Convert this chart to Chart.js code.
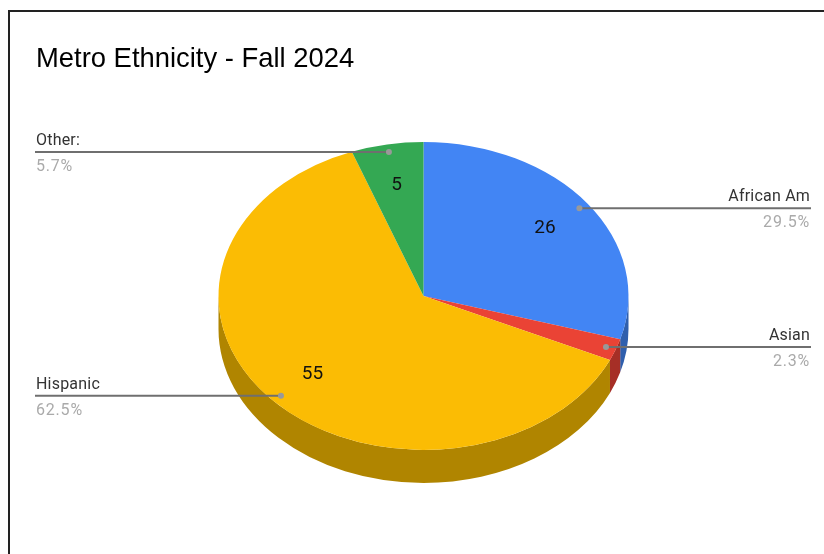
<!DOCTYPE html>
<html>
<head>
<meta charset="utf-8">
<title>Metro Ethnicity - Fall 2024</title>
<script src="https://cdn.jsdelivr.net/npm/chart.js@4"></script>
<style>
    html, body { margin: 0; padding: 0; background: #fff; overflow: hidden; }
    #frame { position: absolute; left: 8px; top: 10px; width: 900px; height: 700px; border: 2px solid #222; }
    /* the reference is a slightly soft screenshot */
    #pieChart { position: absolute; left: 0; top: 0; filter: blur(0.45px); }
</style>
</head>
<body>
<div id="frame"></div>
<canvas id="pieChart" width="824" height="554"></canvas>
<script>
// values
const categories = ['African Am', 'Asian', 'Hispanic', 'Other:'];
const counts = [26, 2, 55, 5];
const percentLabels = ['29.5%', '2.3%', '62.5%', '5.7%'];
const sliceColors = ['#4285f4', '#ea4335', '#fbbc04', '#34a853'];
const sideColors = ['#2f5fad', '#a62f26', '#b08500', '#257740'];

// tilt of the pie
const squash = 0.751;
const depth = 33;
const centerY = 296;

// position on the tilted pie, f = fraction of the radius
function piePoint(arc, f) {
    const mid = (arc.startAngle + arc.endAngle) / 2;
    return {
        x: arc.x + Math.cos(mid) * arc.outerRadius * f,
        y: centerY + Math.sin(mid) * arc.outerRadius * f * squash
    };
}

// side wall of one slice, only the part that faces the viewer (angles 0..PI)
function drawWall(ctx, arc, color) {
    const a = Math.max(arc.startAngle, 0);
    const b = Math.min(arc.endAngle, Math.PI);
    if (b <= a) return;
    const r = arc.outerRadius;
    ctx.fillStyle = color;
    ctx.beginPath();
    ctx.ellipse(arc.x, centerY, r, r * squash, 0, a, b);
    ctx.ellipse(arc.x, centerY + depth, r, r * squash, 0, b, a, true);
    ctx.closePath();
    ctx.fill();
}

const pie3d = {
    id: 'pie3d',
    beforeDatasetsDraw(chart) {
        const ctx = chart.ctx;
        const arcs = chart.getDatasetMeta(0).data;
        arcs.forEach((arc, i) => drawWall(ctx, arc, sideColors[i]));
        // the chart then draws the top face under this transform
        ctx.save();
        ctx.translate(0, centerY);
        ctx.scale(1, squash);
        ctx.translate(0, -arcs[0].y);
    },
    afterDatasetsDraw(chart) {
        const ctx = chart.ctx;
        ctx.restore();

        const arcs = chart.getDatasetMeta(0).data;
        const leftX = 35;
        const rightX = 811;

        arcs.forEach((arc, i) => {
            const dot = piePoint(arc, 0.95);
            const onRight = dot.x > arc.x;
            const endX = onRight ? rightX : leftX;
            const textX = onRight ? rightX - 1 : leftX + 1;

            ctx.strokeStyle = '#6f6f6f';
            ctx.lineWidth = 2;
            ctx.beginPath();
            ctx.moveTo(dot.x, dot.y);
            ctx.lineTo(endX, dot.y);
            ctx.stroke();

            ctx.fillStyle = '#999';
            ctx.beginPath();
            ctx.arc(dot.x, dot.y, 3, 0, Math.PI * 2);
            ctx.fill();

            ctx.textAlign = onRight ? 'right' : 'left';
            ctx.textBaseline = 'alphabetic';
            ctx.font = '16px Roboto';
            ctx.letterSpacing = '0.2px';
            ctx.fillStyle = '#333';
            ctx.fillText(categories[i], textX, dot.y - 7);
            ctx.letterSpacing = '0.8px';
            ctx.fillStyle = '#aaa';
            ctx.fillText(percentLabels[i], textX, dot.y + 19);
            ctx.letterSpacing = '0px';

            // the Asian slice is too thin for a value label
            if (counts[i] > 2) {
                const p = piePoint(arc, 0.74);
                ctx.textAlign = 'center';
                ctx.textBaseline = 'middle';
                ctx.font = '19px Roboto';
                ctx.fillStyle = '#111';
                ctx.fillText(String(counts[i]), p.x, p.y + 1);
            }
        });
    }
};

new Chart(document.getElementById('pieChart'), {
    type: 'pie',
    data: {
        labels: categories,
        datasets: [{
            data: counts,
            backgroundColor: sliceColors,
            borderWidth: 0,
            clip: false
        }]
    },
    options: {
        responsive: false,
        animation: false,
        radius: 205,
        layout: { padding: { left: 36, right: 13 } },
        plugins: {
            legend: { display: false },
            tooltip: { enabled: false },
            title: {
                display: true,
                text: 'Metro Ethnicity - Fall 2024',
                align: 'start',
                color: '#000',
                font: { family: '"Liberation Sans"', size: 27.4, weight: 'normal' },
                padding: { top: 43, bottom: 10 }
            }
        }
    },
    plugins: [pie3d]
});
</script>
</body>
</html>
